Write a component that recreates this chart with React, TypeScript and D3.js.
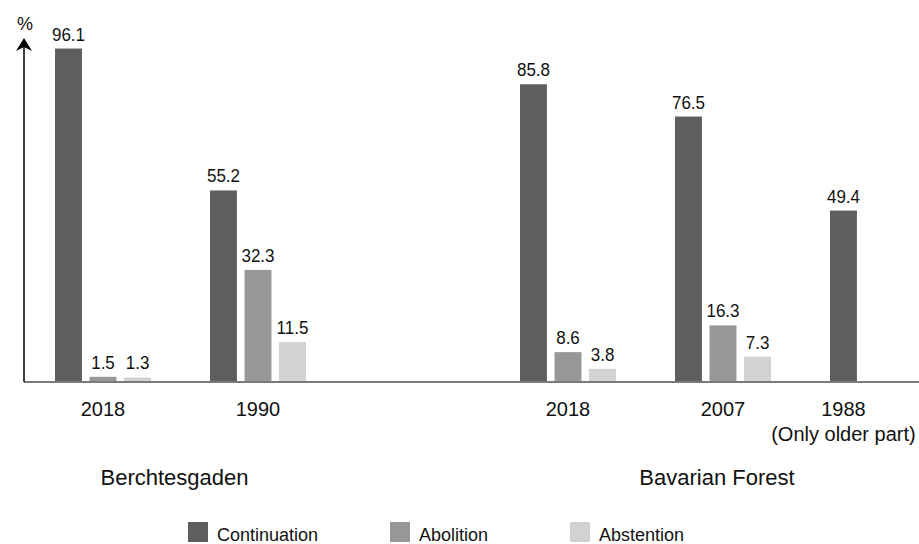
import * as d3 from "d3";
import React from "react";

// Datos
const years = ["2018", "1990", "2018", "2007", "1988"];
const yearNotes = ["", "", "", "", "(Only older part)"];
const regions = ["Berchtesgaden", "Bavarian Forest"];
const regionOf = [0, 0, 1, 1, 1];
const seriesNames = ["Continuation", "Abolition", "Abstention"];
const continuation = [96.1, 55.2, 85.8, 76.5, 49.4];
const abolition: (number | null)[] = [1.5, 32.3, 8.6, 16.3, null];
const abstention: (number | null)[] = [1.3, 11.5, 3.8, 7.3, null];

const colors = ["#5e5e5e", "#979797", "#d2d2d2"];
const legendX = [188, 390, 570];

const W = 919;
const H = 544;
const axisX = 24;
const baseY = 382;
const font = "'Liberation Sans', Arial, sans-serif";

export default function App() {
  const series = [continuation, abolition, abstention];

  // ranuras: grupos de cada región con un hueco entre ellas
  const slots: string[] = [];
  regions.forEach((_, r) => {
    if (r > 0) slots.push("gap" + r);
    years.forEach((_, i) => {
      if (regionOf[i] === r) slots.push(String(i));
    });
  });

  const x = d3
    .scaleBand()
    .domain(slots)
    .range([55, 55 + 155 * slots.length])
    .padding(0);

  const inner = d3
    .scaleBand()
    .domain(seriesNames)
    .range([0, 96])
    .paddingInner(0.22)
    .paddingOuter(0);

  const y = d3.scaleLinear().domain([0, 100]).range([baseY, 35]);

  const groupCenter = (i: number) => {
    const present = seriesNames.filter((_, s) => series[s][i] != null);
    const x0 = x(String(i))! + inner(present[0])!;
    const x1 = x(String(i))! + inner(present[present.length - 1])! + inner.bandwidth();
    return (x0 + x1) / 2;
  };

  const regionCenter = (r: number) => {
    const idx = years.map((_, i) => i).filter((i) => regionOf[i] === r);
    const first = x(String(idx[0]))!;
    const last = x(String(idx[idx.length - 1]))! + inner.range()[1];
    return (first + last) / 2 - 6;
  };

  return (
    <svg
      width={W}
      height={H}
      style={{ position: "absolute", left: 0, top: 0, background: "#fff" }}
      fontFamily={font}
    >
      {/* barras */}
      {years.map((_, i) =>
        seriesNames.map((name, s) => {
          const v = series[s][i];
          if (v == null) return null;
          const bx = x(String(i))! + inner(name)!;
          return (
            <g key={`${i}-${s}`}>
              <rect
                x={bx}
                y={y(v)}
                width={inner.bandwidth()}
                height={baseY - y(v)}
                fill={colors[s]}
              />
              <text
                transform={`translate(${bx + inner.bandwidth() / 2},${y(v) - 8}) scale(0.92,1)`}
                textAnchor="middle"
                fontSize={18.5}
                fill="#111"
              >
                {v.toFixed(1)}
              </text>
            </g>
          );
        })
      )}

      {/* línea base */}
      <line x1={axisX} x2={W} y1={baseY} y2={baseY} stroke="#7a7a7a" strokeWidth={2} />

      {/* eje y con flecha */}
      <line x1={axisX} x2={axisX} y1={baseY} y2={46} stroke="#000" strokeWidth={1.5} />
      <path
        d={`M${axisX},38 L${axisX - 8},51 L${axisX},47 L${axisX + 8},51 Z`}
        fill="#000"
      />
      <text x={axisX + 1} y={30} textAnchor="middle" fontSize={18} fill="#111">
        %
      </text>

      {/* etiquetas de años */}
      {years.map((yr, i) => (
        <g key={"yr" + i}>
          <text x={groupCenter(i)} y={416} textAnchor="middle" fontSize={20} fill="#111">
            {yr}
          </text>
          {yearNotes[i] && (
            <text x={groupCenter(i)} y={441} textAnchor="middle" fontSize={20} fill="#111">
              {yearNotes[i]}
            </text>
          )}
        </g>
      ))}

      {/* regiones */}
      {regions.map((r, k) => (
        <text key={r} x={regionCenter(k)} y={485} textAnchor="middle" fontSize={22} fill="#111">
          {r}
        </text>
      ))}

      {/* leyenda */}
      {seriesNames.map((name, s) => (
        <g key={"lg" + s} transform={`translate(${legendX[s]},522)`}>
          <rect x={0} y={0} width={20} height={20} fill={colors[s]} />
          <text x={29} y={19} fontSize={18} fill="#111">
            {name}
          </text>
        </g>
      ))}
    </svg>
  );
}
